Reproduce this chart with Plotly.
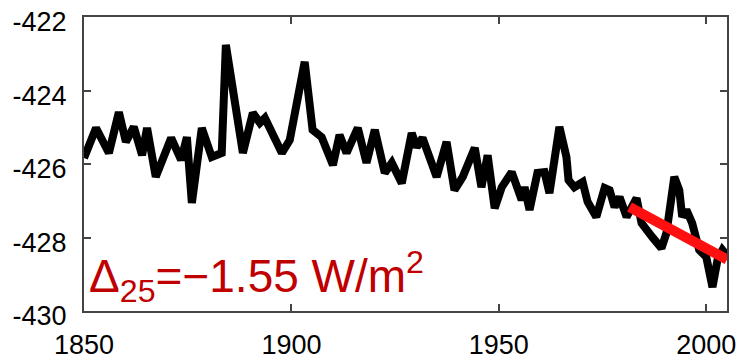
import plotly.graph_objects as go

years = [1850.0, 1852.9, 1856.0, 1858.4, 1860.1, 1862.0, 1864.0, 1865.2, 1867.3, 1871.0,
         1873.4, 1874.8, 1876.0, 1878.4, 1880.8, 1883.2, 1884.2, 1885.6, 1888.3, 1890.7,
         1892.4, 1893.6, 1897.7, 1899.6, 1903.2, 1905.1, 1907.3, 1910.0, 1911.6, 1913.3,
         1916.0, 1918.1, 1920.1, 1922.5, 1924.2, 1926.6, 1929.0, 1930.2, 1931.6, 1935.0,
         1937.4, 1939.3, 1941.3, 1944.2, 1945.8, 1947.3, 1949.0, 1950.7, 1953.1, 1955.5,
         1956.2, 1957.4, 1959.3, 1961.0, 1962.2, 1964.6, 1966.3, 1966.8, 1968.2, 1970.2,
         1971.4, 1973.5, 1975.5, 1976.7, 1977.9, 1979.1, 1980.8, 1983.2, 1984.4, 1987.0,
         1989.2, 1990.4, 1992.3, 1993.5, 1994.2, 1995.2, 1996.6, 1998.3, 2000.0, 2001.5,
         2002.7, 2003.9, 2004.9]
values = [-425.84, -425.02, -425.70, -424.59, -425.40, -424.99, -425.76, -425.02, -426.35, -425.29,
          -425.89, -425.27, -427.06, -425.02, -425.81, -425.70, -422.76, -423.80, -425.70, -424.61,
          -424.88, -424.75, -425.70, -425.35, -423.22, -425.07, -425.27, -426.03, -425.21, -425.70,
          -425.02, -425.97, -425.07, -426.24, -425.97, -426.52, -425.16, -425.54, -425.29, -426.35,
          -425.40, -426.71, -426.35, -425.56, -426.63, -425.76, -427.20, -426.63, -426.22, -426.98,
          -426.63, -427.25, -426.24, -426.22, -426.79, -424.99, -425.81, -426.44, -426.63, -426.49,
          -427.03, -427.44, -426.65, -426.71, -427.17, -426.90, -427.44, -426.93, -427.61, -427.99,
          -428.29, -427.88, -426.35, -426.71, -427.44, -427.25, -427.61, -428.34, -428.53, -429.35,
          -428.61, -428.34, -428.48]

trend_years = [1981.5, 2005.0]
trend_values = [-427.17, -428.60]

x_ticks = [1850, 1900, 1950, 2000]
y_ticks = [-430, -428, -426, -424, -422]

fig = go.Figure()
fig.add_trace(go.Scatter(x=years, y=values, mode="lines",
                         line=dict(color="black", width=8), showlegend=False))
fig.add_trace(go.Scatter(x=trend_years, y=trend_values, mode="lines",
                         line=dict(color="#ff1010", width=10), showlegend=False))

axis_common = dict(showgrid=False, zeroline=False, showline=True, linecolor="#444444",
                   linewidth=2, mirror="ticks", ticks="inside", ticklen=7, tickwidth=1.5,
                   tickcolor="#444444", automargin=False,
                   tickfont=dict(family="Liberation Sans, Arial, sans-serif", size=27, color="black"))

fig.update_xaxes(range=[1850, 2005], tickvals=x_ticks, ticktext=[str(v) for v in x_ticks],
                 ticklabelstandoff=9, **axis_common)
fig.update_yaxes(range=[-430, -422], tickvals=y_ticks, ticktext=[str(v) for v in y_ticks],
                 ticklabelstandoff=10, ticklabelshift=5, **axis_common)

fig.add_annotation(xref="paper", yref="paper", x=0.004, y=0.0, xanchor="left", yanchor="bottom",
                   text="Δ<sub>25</sub>=−1.55 W/m<sup>2</sup>", showarrow=False,
                   font=dict(family="Liberation Sans, Arial, sans-serif", size=46, color="#c00000"))

fig.update_layout(width=740, height=361, margin=dict(l=84, r=13, t=17, b=50),
                  plot_bgcolor="white", paper_bgcolor="white")

fig.write_html("out.html")
